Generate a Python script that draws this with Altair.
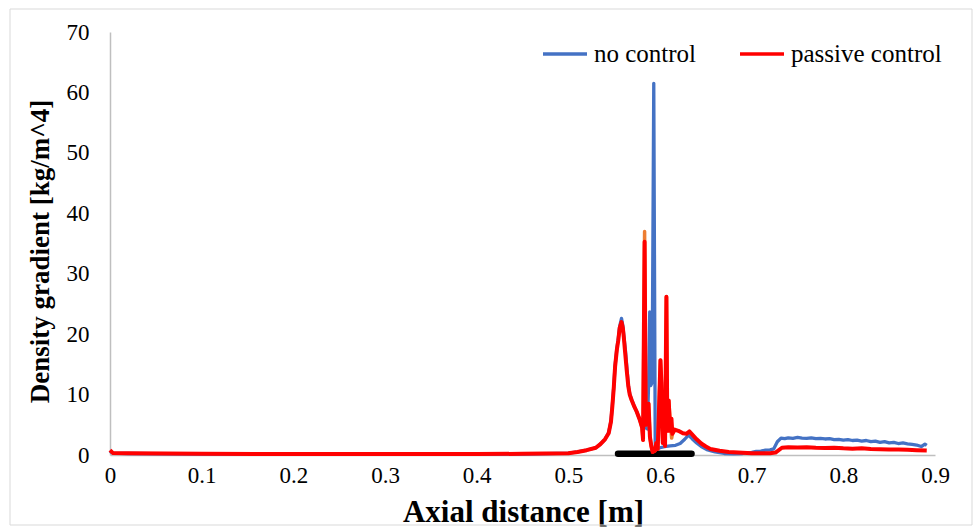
import altair as alt
import pandas as pd

# ---------------- data ----------------
blue_x = [0.000, 0.003, 0.02, 0.1, 0.2, 0.3, 0.4, 0.45, 0.5, 0.51, 0.52, 0.53, 0.535, 0.54,
          0.544, 0.5465, 0.548, 0.5495, 0.551, 0.553, 0.5545, 0.556, 0.558, 0.5595, 0.5605,
          0.5625, 0.564, 0.5655, 0.567, 0.569, 0.572, 0.5745, 0.578,
          0.581, 0.5835, 0.5862, 0.5876, 0.5888, 0.5899, 0.5914, 0.5932, 0.5948, 0.5965,
          0.600, 0.605, 0.611, 0.617, 0.622, 0.627, 0.631, 0.635, 0.640, 0.645, 0.651, 0.660,
          0.670, 0.680, 0.690, 0.695, 0.700, 0.705, 0.710, 0.715, 0.720, 0.724, 0.728, 0.732,
          0.736, 0.740, 0.745, 0.750, 0.755, 0.760, 0.765, 0.770, 0.775, 0.780, 0.785, 0.790,
          0.795, 0.800, 0.805, 0.810, 0.815, 0.820, 0.825, 0.830, 0.835, 0.840, 0.845, 0.850,
          0.855, 0.860, 0.865, 0.870, 0.875, 0.880, 0.885, 0.889, 0.891]
blue_y = [0.6, 0.3, 0.25, 0.15, 0.12, 0.12, 0.12, 0.15, 0.3, 0.5, 0.8, 1.2, 1.8, 2.6,
          3.7, 5.6, 8.2, 11.2, 14.8, 17.7, 19.3, 21.3, 22.6, 21.4, 19.8,
          17.0, 14.2, 11.5, 10.1, 9.2, 8.0, 7.2, 5.8,
          4.8, 4.6, 4.3, 12.0, 23.7, 11.5, 12.0, 61.5, 1.5, 1.0,
          1.2, 1.4, 1.5, 1.6, 1.9, 2.6, 3.3, 2.7, 2.0, 1.4, 0.9, 0.5,
          0.25, 0.2, 0.25, 0.4, 0.45, 0.6, 0.65, 0.8, 0.85, 1.0, 2.2, 2.8,
          2.7, 2.85, 2.75, 2.9, 2.8, 2.75, 2.85, 2.7, 2.75, 2.65, 2.7, 2.55,
          2.6, 2.45, 2.55, 2.4, 2.45, 2.3, 2.4, 2.2, 2.3, 2.1, 2.2, 2.0,
          2.1, 1.9, 2.0, 1.85, 1.75, 1.65, 1.4, 1.8, 1.6]

red_x = [0.000, 0.003, 0.02, 0.1, 0.2, 0.3, 0.4, 0.45, 0.5, 0.51, 0.52, 0.53, 0.535, 0.54,
         0.544, 0.5465, 0.548, 0.5495, 0.551, 0.553, 0.5545, 0.556, 0.558, 0.5595, 0.5605,
         0.562, 0.5637, 0.5655, 0.567, 0.569, 0.572, 0.5745, 0.578,
         0.5805, 0.5815, 0.5832, 0.5845, 0.5855, 0.5865, 0.5875, 0.589, 0.5905, 0.592,
         0.5945, 0.596, 0.5975, 0.599, 0.6005, 0.6015, 0.603, 0.6045, 0.6055, 0.607, 0.608,
         0.6095, 0.611, 0.6125, 0.6135, 0.616, 0.620, 0.625, 0.629, 0.632, 0.635, 0.640,
         0.645, 0.650, 0.655, 0.665, 0.675, 0.685, 0.700, 0.720, 0.726, 0.733, 0.740, 0.750,
         0.760, 0.770, 0.780, 0.790, 0.800, 0.810, 0.820, 0.830, 0.840, 0.850, 0.860, 0.870,
         0.880, 0.891]
red_y = [0.8, 0.35, 0.3, 0.2, 0.15, 0.15, 0.15, 0.2, 0.3, 0.5, 0.8, 1.2, 1.8, 2.6,
         3.6, 5.5, 8.0, 11.0, 14.6, 17.5, 19.0, 21.0, 22.0, 21.0, 19.5,
         16.9, 14.0, 11.3, 10.0, 9.1, 8.0, 7.2, 5.8,
         4.5, 2.5, 35.3, 5.0, 8.0, 6.5, 8.5, 3.0, 1.5, 0.5,
         0.7, 2.0, 1.0, 8.0, 15.7, 12.0, 2.0, 5.0, 1.5, 26.2, 4.0,
         9.0, 4.0, 6.0, 3.5, 4.2, 4.0, 3.6, 3.5, 3.9, 3.4, 2.6,
         1.9, 1.4, 1.0, 0.7, 0.5, 0.4, 0.3, 0.3, 0.4, 1.2, 1.3, 1.25,
         1.3, 1.2, 1.15, 1.2, 1.1, 1.05, 1.1, 1.0, 0.95, 0.9, 0.9, 0.85,
         0.8, 0.75]

# third (unlabelled) series, mostly hidden under the red one
orange_x = [0.578, 0.5805, 0.5815, 0.5832, 0.5845, 0.5855, 0.5865, 0.5875, 0.589, 0.5905,
            0.592, 0.5945, 0.596, 0.5975, 0.599, 0.6005, 0.6015, 0.603, 0.6045, 0.6055,
            0.607, 0.608, 0.6095, 0.611, 0.6127, 0.6135, 0.616]
orange_y = [5.8, 4.5, 2.5, 37.0, 5.0, 8.0, 6.5, 8.5, 3.0, 1.5,
            0.5, 0.7, 2.0, 1.0, 8.0, 15.7, 12.0, 2.0, 5.0, 1.5,
            26.2, 4.0, 9.0, 6.0, 2.8, 3.5, 4.2]

# black bar marking the controlled region
bar_x = [0.5542, 0.6344]
bar_y = [0.2, 0.2]

series_names = ["no control", "passive control"]
series_colors = ["#4472C4", "#FF0000"]
orange_color = "#ED7D31"

x_ticks = [0, 0.1, 0.2, 0.3, 0.4, 0.5, 0.6, 0.7, 0.8, 0.9]
y_ticks = [0, 10, 20, 30, 40, 50, 60, 70]

assert len(blue_x) == len(blue_y)
assert len(red_x) == len(red_y)
assert len(orange_x) == len(orange_y)

df_blue = pd.DataFrame({"x": blue_x, "y": blue_y, "series": series_names[0]})
df_red = pd.DataFrame({"x": red_x, "y": red_y, "series": series_names[1]})
df_orange = pd.DataFrame({"x": orange_x, "y": orange_y})
df_bar = pd.DataFrame({"x": bar_x, "y": bar_y})

FONT = "Liberation Serif"

x_enc = alt.X("x:Q",
              scale=alt.Scale(domain=[0, 0.9], nice=False, zero=False),
              axis=alt.Axis(values=x_ticks, format=".1~f", title="Axial distance [m]",
                            labelPadding=9, labelFlush=False,
                            labelFont=FONT, labelFontWeight="normal",
                            titleX=413, titleY=66, titleFontSize=31))
y_enc = alt.Y("y:Q",
              scale=alt.Scale(domain=[0, 70], nice=False),
              axis=alt.Axis(values=y_ticks, title="Density gradient [kg/m^4]",
                            labelPadding=21, titleFontSize=27,
                            labelFont=FONT, labelFontWeight=400,
                            titleX=-62, titleY=219, titleAngle=270))

color_enc = alt.Color("series:N",
                      scale=alt.Scale(domain=series_names, range=series_colors),
                      title=None,
                      legend=alt.Legend(orient="none", legendX=431, legendY=-2,
                                        direction="horizontal", symbolType="stroke",
                                        symbolSize=1936, symbolStrokeWidth=3.5,
                                        labelFont=FONT, labelFontWeight=500,
                                        labelOffset=5, columnPadding=36, padding=0))

frame = alt.Chart(pd.DataFrame({"f": [0]})).mark_rect(
    fillOpacity=0, stroke="#D9D9D9", strokeWidth=1
).encode(x=alt.value(-100), x2=alt.value(862), y=alt.value(-23), y2=alt.value(493))

bar = alt.Chart(df_bar).mark_line(color="black", strokeWidth=6.5, strokeCap="round").encode(
    x=x_enc, y=y_enc)

blue = alt.Chart(df_blue).mark_line(strokeWidth=3.3, strokeJoin="round").encode(
    x=x_enc, y=y_enc, color=color_enc)

orange = alt.Chart(df_orange).mark_line(color=orange_color, strokeWidth=3.5,
                                        strokeJoin="round").encode(x=x_enc, y=y_enc)

red = alt.Chart(df_red).mark_line(strokeWidth=4, strokeJoin="round").encode(
    x=x_enc, y=y_enc, color=color_enc)

chart = alt.layer(frame, bar, blue, orange, red).properties(
    width=825, height=423,
    padding={"left": 110, "top": 32, "right": 39, "bottom": 72},
    autosize=alt.AutoSizeParams(type="none"),
    background="white",
).configure_view(
    strokeWidth=0
).configure_axis(
    grid=False, ticks=False, domainColor="#BFBFBF", domainWidth=1.5,
    labelFontSize=23, labelColor="black",
    titleFont=FONT, titleFontWeight="bold", titleColor="black",
    titleBaseline="alphabetic", titleAlign="center"
).configure_legend(
    labelFontSize=25, labelColor="black"
)

chart.save("out.html", embed_options={"renderer": "svg", "actions": False})
